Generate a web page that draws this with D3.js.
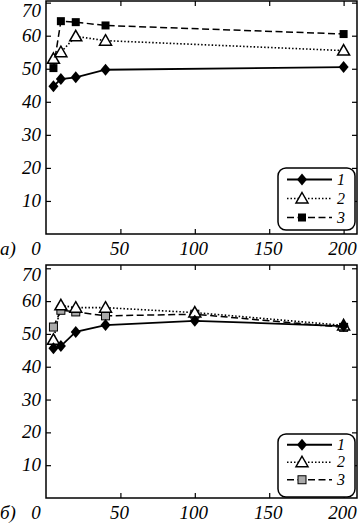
<!DOCTYPE html>
<html>
<head>
<meta charset="utf-8">
<script src="https://cdn.jsdelivr.net/npm/d3@7"></script>
<style>
  body { margin: 0; background: #fff; }
  svg { display: block; }
</style>
</head>
<body>
<svg id="chart" width="359" height="525"></svg>
<script>
// data
const xTop = [5, 10, 20, 40, 200];
const topS1 = [44.7, 46.9, 47.4, 49.7, 50.5];
const topS2 = [53.0, 55.0, 59.8, 58.5, 55.5];
const topS3 = [50.2, 64.4, 64.1, 63.1, 60.5];

const xBottom = [5, 10, 20, 40, 100, 200];
const botS1 = [45.6, 46.3, 50.6, 52.7, 54.0, 52.4];
const botS2 = [48.2, 58.7, 58.0, 58.0, 56.5, 52.6];
const botS3 = [52.1, 57.2, 56.7, 55.5, 56.0, 52.0];

const xTicks = [0, 50, 100, 150, 200];
const yTicks = [10, 20, 30, 40, 50, 60, 70];
const panelLabels = ["а)", "б)"];
const seriesNames = ["1", "2", "3"];

const svg = d3.select("#chart");
const fs = 19;
const font = "'Liberation Serif', 'DejaVu Serif', serif";

function label(sel) {
    return sel.attr("font-family", font).attr("font-style", "italic").attr("fill", "#000");
}

function drawPanel(cfg) {
    const x = d3.scaleLinear().domain([0, 209]).range([46, 357]);
    const y = d3.scaleLinear().domain([0, cfg.ymax]).range([cfg.bottom, cfg.top]);
    const g = svg.append("g");

    // frame
    g.append("rect")
        .attr("x", x(0)).attr("y", cfg.top)
        .attr("width", x(209) - x(0)).attr("height", cfg.bottom - cfg.top)
        .attr("fill", "none").attr("stroke", "#000").attr("stroke-width", 1.5);

    // inward ticks on all four sides
    const tl = 5;
    g.append("g").attr("transform", `translate(0,${cfg.bottom})`)
        .call(d3.axisTop(x).tickValues(xTicks.slice(1)).tickSize(tl).tickFormat(""))
        .call(a => a.select(".domain").remove());
    g.append("g").attr("transform", `translate(0,${cfg.top})`)
        .call(d3.axisBottom(x).tickValues(xTicks.slice(1)).tickSize(tl).tickFormat(""))
        .call(a => a.select(".domain").remove());
    g.append("g").attr("transform", `translate(${x(0)},0)`)
        .call(d3.axisRight(y).tickValues(yTicks).tickSize(tl).tickFormat(""))
        .call(a => a.select(".domain").remove());
    g.append("g").attr("transform", `translate(${x(209)},0)`)
        .call(d3.axisLeft(y).tickValues(yTicks).tickSize(tl).tickFormat(""))
        .call(a => a.select(".domain").remove());
    g.selectAll(".tick line").attr("stroke-width", 1.2);

    // tick labels
    g.selectAll(".ylab").data(yTicks).join("text")
        .attr("x", 41).attr("y", d => Math.max(y(d) + 6, cfg.top + 16))
        .attr("text-anchor", "end").attr("font-size", fs)
        .text(d => d).call(label);
    g.selectAll(".xlab").data(xTicks).join("text")
        .attr("x", d => d === 0 ? 36 : x(d) - 1).attr("y", cfg.bottom + 21)
        .attr("text-anchor", "middle").attr("font-size", fs)
        .text(d => d).call(label);
    g.append("text").attr("x", 0).attr("y", cfg.bottom + 21)
        .attr("font-size", fs).text(cfg.label).call(label);

    const line = d3.line().x(d => x(d[0])).y(d => y(d[1]));
    const series = cfg.series.map(s => cfg.xs.map((v, i) => [v, s[i]]));

    const styles = [
        { dash: null, width: 1.8 },
        { dash: "1.5,2", width: 1.6 },
        { dash: "7,3.5", width: 1.5 }
    ];

    // draw lines from last to first so the solid one sits on top
    [2, 1, 0].forEach(k => {
        g.append("path").datum(series[k])
            .attr("d", line).attr("fill", "none").attr("stroke", "#000")
            .attr("stroke-width", styles[k].width)
            .attr("stroke-dasharray", styles[k].dash);
    });

    function marker(sel, k, cx, cy) {
        if (k === 0) {
            sel.append("path").attr("d", `M${cx},${cy - 6}L${cx + 5},${cy}L${cx},${cy + 6}L${cx - 5},${cy}Z`)
                .attr("fill", "#000");
        } else if (k === 1) {
            sel.append("path").attr("d", `M${cx},${cy - 6}L${cx + 6},${cy + 4.5}L${cx - 6},${cy + 4.5}Z`)
                .attr("fill", "#fff").attr("stroke", "#000").attr("stroke-width", 1.5);
        } else {
            sel.append("rect").attr("x", cx - 4).attr("y", cy - 4).attr("width", 8).attr("height", 8)
                .attr("fill", cfg.squareFill).attr("stroke", "#000").attr("stroke-width", cfg.squareFill === "#000" ? 0 : 1);
        }
    }

    [2, 1, 0].forEach(k => {
        series[k].forEach(p => marker(g, k, x(p[0]), y(p[1])));
    });

    // legend
    const lg = g.append("g");
    lg.append("rect")
        .attr("x", 278).attr("y", cfg.legendTop)
        .attr("width", 77).attr("height", cfg.legendH).attr("rx", 8)
        .attr("fill", "#fff").attr("stroke", "#000").attr("stroke-width", 1.5);
    seriesNames.forEach((name, k) => {
        const ly = cfg.legendTop + cfg.legendStep * (k + 0.5) + 2;
        lg.append("line").attr("x1", 287).attr("x2", 332).attr("y1", ly).attr("y2", ly)
            .attr("stroke", "#000").attr("stroke-width", styles[k].width)
            .attr("stroke-dasharray", styles[k].dash);
        marker(lg, k, 302, ly);
        lg.append("text").attr("x", 341).attr("y", ly + 5)
            .attr("text-anchor", "middle").attr("font-size", 16).text(name).call(label);
    });
}

drawPanel({
    top: 1, bottom: 234, ymax: 70.5, label: panelLabels[0],
    xs: xTop, series: [topS1, topS2, topS3], squareFill: "#000",
    legendTop: 168, legendH: 62, legendStep: 19
});

drawPanel({
    top: 265, bottom: 498, ymax: 71, label: panelLabels[1],
    xs: xBottom, series: [botS1, botS2, botS3], squareFill: "#aaa",
    legendTop: 434, legendH: 63, legendStep: 17.5
});
</script>
</body>
</html>
